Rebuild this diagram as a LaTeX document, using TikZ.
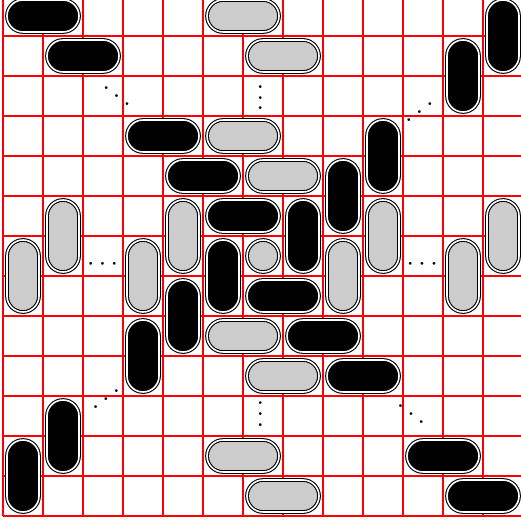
\documentclass[tikz,border=0pt]{standalone}
\usepackage{graphicx}
\definecolor{lg}{gray}{0.8}

\begin{document}
\begin{tikzpicture}[x=15pt,y=15pt,
    dom/.style={rectangle,draw,double,rounded corners=6pt,inner sep=0pt,line width=0.4pt,fill=#1},
    hd/.style={dom=#1,minimum width=27pt,minimum height=12pt},
    vd/.style={dom=#1,minimum width=12pt,minimum height=27pt},
    mono/.style={circle,draw,double,inner sep=0pt,line width=0.4pt,minimum size=12pt,fill=#1},
    dt/.style={inner sep=0pt},
]
\useasboundingbox (-0.075,-0.1) rectangle (12.95,12.9);
\clip (-0.075,-0.1) rectangle (12.95,12.9);

% Grid
\draw[red,line width=0.4pt,step=1] (0,0) grid (13,13);

% Black horizontal
\node[hd=black] (bh1) at (1,12.5) {};
\node[hd=black] (bh2) at (2,11.5) {};
\node[hd=black] (bh3) at (4,9.5) {};
\node[hd=black] (bh4) at (5,8.5) {};
\node[hd=black] (bh5) at (6,7.5) {};
\node[hd=black] (bh6) at (7,5.5) {};
\node[hd=black] (bh7) at (8,4.5) {};
\node[hd=black] (bh8) at (9,3.5) {};
\node[hd=black] (bh9) at (11,1.5) {};
\node[hd=black] (bh10) at (12,0.5) {};

% Black vertical
\node[vd=black] (bv1) at (12.5,12) {};
\node[vd=black] (bv2) at (11.5,11) {};
\node[vd=black] (bv3) at (9.5,9) {};
\node[vd=black] (bv4) at (8.5,8) {};
\node[vd=black] (bv5) at (7.5,7) {};
\node[vd=black] (bv6) at (5.5,6) {};
\node[vd=black] (bv7) at (4.5,5) {};
\node[vd=black] (bv8) at (3.5,4) {};
\node[vd=black] (bv9) at (1.5,2) {};
\node[vd=black] (bv10) at (0.5,1) {};

% Gray horizontal
\node[hd=lg] (gh1) at (6,12.5) {};
\node[hd=lg] (gh2) at (7,11.5) {};
\node[hd=lg] (gh3) at (6,9.5) {};
\node[hd=lg] (gh4) at (7,8.5) {};
\node[hd=lg] (gh5) at (6,4.5) {};
\node[hd=lg] (gh6) at (7,3.5) {};
\node[hd=lg] (gh7) at (6,1.5) {};
\node[hd=lg] (gh8) at (7,0.5) {};

% Gray vertical
\node[vd=lg] (gv1) at (1.5,7) {};
\node[vd=lg] (gv2) at (0.5,6) {};
\node[vd=lg] (gv3) at (4.5,7) {};
\node[vd=lg] (gv4) at (3.5,6) {};
\node[vd=lg] (gv5) at (9.5,7) {};
\node[vd=lg] (gv6) at (8.5,6) {};
\node[vd=lg] (gv7) at (12.5,7) {};
\node[vd=lg] (gv8) at (11.5,6) {};

% Center
\node[mono=lg] (m) at (6.5,6.5) {};

% Dots
\node[dt] (d1) at (2.84,10.7) {$\ddots$};
\node[dt] (d2) at (6.43,10.66) {$\vdots$};
\node[dt] (d3) at (10.41,10.3) {\reflectbox{$\ddots$}};
\node[dt] (d4) at (2.49,6.29) {$\cdots$};
\node[dt] (d5) at (10.48,6.29) {$\cdots$};
\node[dt] (d6) at (2.575,3.125) {\reflectbox{$\ddots$}};
\node[dt] (d7) at (6.43,2.75) {$\vdots$};
\node[dt] (d8) at (10.2,2.75) {$\ddots$};
\end{tikzpicture}
\end{document}
